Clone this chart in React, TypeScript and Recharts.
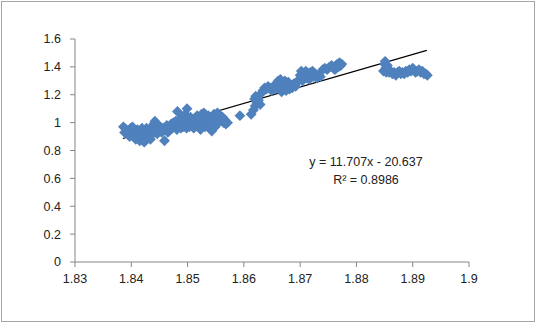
import React from 'react';
import { ScatterChart, Scatter, XAxis, YAxis, ReferenceLine } from 'recharts';

// scatter points
const xs = [
  1.8386, 1.8388, 1.8391, 1.8394, 1.8397, 1.8399, 1.8402, 1.8404, 1.8406, 1.8408, 1.8411, 1.8413, 1.8415, 1.8417, 1.8419, 1.8421, 1.8423, 1.8425,
  1.8427, 1.8429, 1.8431, 1.8434, 1.8436, 1.8438, 1.844, 1.8442, 1.8444, 1.8446, 1.8448, 1.845, 1.8452, 1.8454,
  1.8457, 1.8459, 1.8461, 1.8463, 1.8465, 1.8467, 1.8469, 1.8471, 1.8473, 1.8475, 1.8477, 1.8479, 1.8481, 1.8482, 1.8484,
  1.8486, 1.8488, 1.849, 1.8492, 1.8494, 1.8496, 1.8498, 1.8499, 1.8501, 1.8503, 1.8505, 1.8507, 1.8509, 1.8511, 1.8513,
  1.8515, 1.8517, 1.8519, 1.8521, 1.8523, 1.8525, 1.8527, 1.8529, 1.8531, 1.8533, 1.8535, 1.8537, 1.8539, 1.8541, 1.8543, 1.8545,
  1.8547, 1.8549, 1.8551, 1.8553, 1.8555, 1.8557, 1.8559, 1.8562, 1.8564, 1.8566, 1.8568, 1.8571,
  1.8593, 1.8613,
  1.8617, 1.862, 1.8623, 1.8619, 1.8621, 1.8626, 1.8629, 1.8631, 1.8634, 1.8637, 1.864, 1.8643, 1.8646, 1.8649, 1.8652, 1.8655, 1.8658,
  1.8661, 1.8663, 1.8665, 1.8667, 1.8669, 1.8671, 1.8673, 1.8675, 1.8677, 1.8679, 1.8681, 1.8683, 1.8686, 1.8689, 1.8692, 1.8695,
  1.8698, 1.87, 1.8702, 1.8704, 1.8706, 1.8708, 1.871, 1.8712, 1.8714, 1.8716, 1.8718, 1.872, 1.8722, 1.8724, 1.8727, 1.873, 1.8733, 1.8736,
  1.874, 1.8744, 1.8748, 1.8752, 1.8756, 1.8759, 1.8762, 1.8764, 1.8766, 1.8768, 1.877, 1.8772, 1.8774,
  1.8848, 1.885, 1.8851, 1.8852, 1.8853, 1.8855, 1.8856, 1.8858, 1.8861, 1.8864, 1.8867, 1.887, 1.8873, 1.8876, 1.8879, 1.8882,
  1.8885, 1.8888, 1.8891, 1.8894, 1.8897, 1.89, 1.8902, 1.8905, 1.8908, 1.8911, 1.8914, 1.8917, 1.892, 1.8923, 1.8926,
];
const ys = [
  0.97, 0.93, 0.95, 0.92, 0.9, 0.96, 0.97, 0.93, 0.89, 0.88, 0.95, 0.91, 0.87, 0.93, 0.96, 0.89, 0.86, 0.92,
  0.96, 0.9, 0.94, 0.88, 0.97, 0.92, 0.99, 1.01, 0.95, 0.92, 0.98, 0.94, 0.97, 0.93,
  0.96, 0.87, 0.95, 0.98, 0.93, 0.97, 0.95, 0.99, 0.96, 1.0, 0.97, 1.01, 0.95, 1.08, 0.98,
  1.02, 0.96, 1.04, 0.97, 1.0, 1.06, 0.96, 1.1, 1.02, 0.97, 1.04, 0.98, 1.01, 0.96, 1.03,
  0.99, 1.05, 0.97, 1.02, 0.95, 1.06, 1.0, 1.07, 0.97, 1.04, 0.99, 1.05, 0.96, 1.02, 0.94, 1.0,
  1.06, 0.97, 1.03, 1.07, 1.0, 1.05, 1.02, 1.04, 1.0, 1.02, 0.99, 1.0,
  1.05, 1.06,
  1.09, 1.12, 1.14, 1.17, 1.19, 1.16, 1.13, 1.21, 1.23, 1.25, 1.24, 1.26, 1.25, 1.23, 1.26, 1.24, 1.27,
  1.3, 1.26, 1.31, 1.22, 1.28, 1.25, 1.3, 1.23, 1.27, 1.29, 1.24, 1.27, 1.25, 1.28, 1.26, 1.29,
  1.31, 1.34, 1.37, 1.3, 1.35, 1.33, 1.37, 1.32, 1.35, 1.31, 1.36, 1.34, 1.37, 1.33, 1.35, 1.32, 1.34, 1.33,
  1.38, 1.39, 1.38, 1.4, 1.41, 1.39, 1.38, 1.41, 1.42, 1.4, 1.43, 1.41, 1.42,
  1.37, 1.42, 1.44, 1.39, 1.36, 1.41, 1.38, 1.36, 1.37, 1.35, 1.36, 1.34, 1.36, 1.37, 1.35, 1.36,
  1.35, 1.37, 1.36, 1.38, 1.37, 1.39, 1.38, 1.36, 1.37, 1.38, 1.36, 1.37, 1.35, 1.35, 1.34,
];

const xTicks = [1.83, 1.84, 1.85, 1.86, 1.87, 1.88, 1.89, 1.9];
const yTicks = [0, 0.2, 0.4, 0.6, 0.8, 1, 1.2, 1.4, 1.6];

// linear trendline y = 11.707x - 20.637, drawn over the data range
const slope = 11.707;
const intercept = -20.637;
const trendX = [1.8385, 1.8925];

const points = xs.map((x, i) => ({ x, y: ys[i] }));
const trend = trendX.map((x) => ({ x, y: slope * x + intercept }));

const Diamond = (props: any) => {
  const { cx, cy } = props;
  const r = 5.4;
  return (
    <polygon
      points={`${cx},${cy - r} ${cx + r},${cy} ${cx},${cy + r} ${cx - r},${cy}`}
      fill="#4F81BD"
    />
  );
};

const font = { fontFamily: 'Liberation Sans, Arial, sans-serif', fontSize: 12.5, fill: '#222' };

export default function App() {
  return (
    <div
      style={{
        position: 'absolute',
        left: 1,
        top: 1,
        width: 532,
        height: 319,
        border: '1px solid #a6a6a6',
        background: '#fff',
      }}
    >
      <ScatterChart width={532} height={319} margin={{ top: 37, right: 65, bottom: 29, left: 23 }}>
        <XAxis
          type="number"
          dataKey="x"
          domain={[1.83, 1.9]}
          ticks={xTicks}
          interval={0}
          stroke="#868686"
          tickSize={5}
          tickMargin={7}
          height={30}
          tick={font}
        />
        <YAxis
          type="number"
          dataKey="y"
          domain={[0, 1.6]}
          ticks={yTicks}
          interval={0}
          stroke="#868686"
          tickSize={5}
          tickMargin={9}
          width={50}
          tick={font}
        />
        <Scatter data={points} shape={Diamond} isAnimationActive={false} />
        <ReferenceLine
          segment={trend}
          stroke="#000"
          strokeWidth={1.2}
          ifOverflow="visible"
        />
        <text x={364} y={164} textAnchor="middle" {...font}>
          y = 11.707x - 20.637
        </text>
        <text x={364} y={182} textAnchor="middle" {...font}>
          R² = 0.8986
        </text>
      </ScatterChart>
    </div>
  );
}
